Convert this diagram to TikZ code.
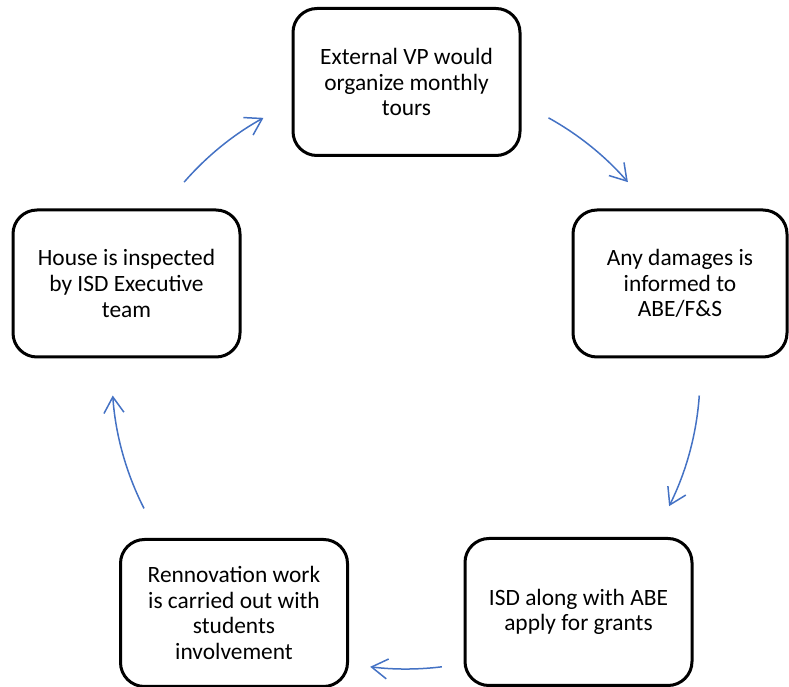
\documentclass[tikz,border=0pt]{standalone}
\usepackage{fontspec}
\setmainfont{Carlito}
\usepackage{xcolor}
\usepackage{tikz}
\usetikzlibrary{arrows.meta, positioning}
\definecolor{cycleblue}{HTML}{4472C4}

\begin{document}
\begin{tikzpicture}[
    x=0.5pt, y=0.5pt,
    % Styles for the stage boxes and the ring arrows
    stage/.style = {rectangle, draw, line width=1.5pt, rounded corners=12pt, minimum width=113.5pt, minimum height=73.5pt, align=center, font=\fontsize{11.7}{12.8}\selectfont},
    flow/.style = {draw=cycleblue, line width=0.75pt, -{Straight Barb[length=8pt, width=10pt]}}
]
    \useasboundingbox (0,0) rectangle (789,687);

    % 1. The five stages, placed round the ring
    \node (tours)   [stage] at (406.5,605) {External VP would\\ organize monthly\\ tours};
    \node (damages) [stage, minimum width=107pt] at (680,403.5) {Any damages is\\ informed to\\ ABE/F\&S};
    \node (grants)  [stage] at (578.5,75) {ISD along with ABE\\ apply for grants};
    \node (work)    [stage] at (234,74) {Rennovation work\\ is carried out with\\ students\\ involvement};
    \node (inspect) [stage] at (126.5,403.5) {House is inspected\\ by ISD Executive\\ team};

    % 2. Centre of the ring and the start of each arrow on it
    \coordinate (hub) at (406,312);
    \foreach \name/\ang in {s1/139, s2/61, s3/-4, s4/-83, s5/-153}
        \path (hub) ++(\ang:147pt) coordinate (\name);

    % 3. Arrows running clockwise between the stages
    \draw [flow] (s1) arc[start angle=139, end angle=119, radius=147pt];
    \draw [flow] (s2) arc[start angle=61, end angle=41, radius=147pt];
    \draw [flow] (s3) arc[start angle=-4, end angle=-26.5, radius=147pt];
    \draw [flow] (s4) arc[start angle=-83, end angle=-97, radius=147pt];
    \draw [flow] (s5) arc[start angle=-153, end angle=-176, radius=147pt];

\end{tikzpicture}
\end{document}
